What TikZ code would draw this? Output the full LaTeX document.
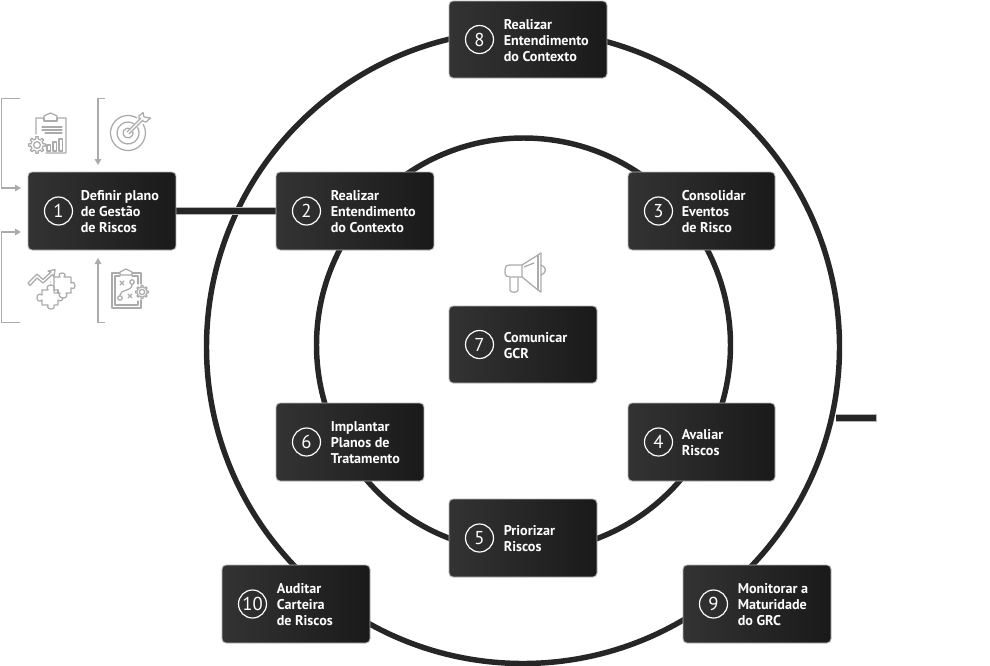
\documentclass[tikz,border=0pt]{standalone}
\usepackage{fontspec}
\setmainfont{PT Sans}
\usetikzlibrary{arrows.meta,calc,shadings}
\definecolor{ringc}{HTML}{262626}
\definecolor{edgec}{HTML}{B5B5B5}
\definecolor{iconc}{HTML}{ABABAB}
\tikzset{
 x=0.75pt,y=-0.75pt,
 ringline/.style={draw=ringc,line width=4.1pt},
 boxa/.style={rounded corners=3pt,draw=edgec,line width=0.7pt,left color=black!80,right color=black!90},
 numc/.style={circle,draw=white,line width=0.9pt,minimum size=21pt,inner sep=0pt,text=white,font=\fontsize{14}{14}\selectfont},
 labc/.style={anchor=west,align=left,text=white,inner sep=0pt,font=\fontsize{10.6}{12}\selectfont\bfseries},
 link/.style={draw=ringc,line width=4.4pt},
 linkedge/.style={draw=edgec,line width=5.6pt},
 bracket/.style={draw=iconc,line width=0.8pt},
 bracketarrow/.style={bracket,-{Triangle[length=4.5pt,width=5pt]}},
 icon/.style={draw=iconc,line width=0.95pt,line join=round,line cap=round},
}
\def\lx{55}
\newcommand{\stepbox}[7]{% name, x1,y1,x2,y2, number, text
 \node[boxa,minimum width={(#4-#2)*0.75pt},minimum height={(#5-#3)*0.75pt},inner sep=0pt] (#1) at ({(#2+#4)/2},{(#3+#5)/2}) {};
 \node[numc] (#1num) at ({#2+30.5},{(#3+#5)/2}) {#6};
 \node[labc] (#1lab) at ({#2+\lx-0.5},{(#3+#5)/2+0.8}) {#7};
}
\newcommand{\gearicon}[3]{% x,y,r
 \foreach \a in {0,45,...,315}{\draw[icon] ({#1+#3*cos(\a-11)},{#2+#3*sin(\a-11)}) -- ({#1+1.35*#3*cos(\a-8)},{#2+1.35*#3*sin(\a-8)}) -- ({#1+1.35*#3*cos(\a+8)},{#2+1.35*#3*sin(\a+8)}) -- ({#1+#3*cos(\a+11)},{#2+#3*sin(\a+11)});
 \draw[icon] ({#1+#3*cos(\a+11)},{#2+#3*sin(\a+11)}) arc[start angle={-(\a+11)},end angle={-(\a+34)},radius=#3*0.75pt];}
 \draw[icon] (#1,#2) circle[radius=0.55*#3*0.75pt];
}
\begin{document}
\begin{tikzpicture}
\useasboundingbox (0,0) rectangle (990,665);
\coordinate (oc) at (523,347);
\coordinate (ic) at (523.5,345);
\draw[ringline] (oc) circle[radius=316.5*0.75pt];
\draw[ringline] (ic) circle[radius=207*0.75pt];
% stub
\coordinate (stubA) at (836,418);
\coordinate (stubB) at (877,418);
\draw[linkedge] (stubA) -- (stubB);
\draw[link] (stubA) -- ($(stubB)+(-1,0)$);
% boxes
\coordinate (l1) at (176,211);\coordinate (l2) at (276,211);
\draw[linkedge] (l1) -- (l2);
\draw[link] (l1) -- (l2);
\def\lx{53}
\stepbox{n1}{28}{172}{176}{250}{1}{Definir plano\\de Gestão\\de Riscos}
\def\lx{55}
\stepbox{n2}{276}{172}{434}{250}{2}{Realizar\\Entendimento\\do Contexto}
\def\lx{54}
\stepbox{n3}{628}{172}{775}{250}{3}{Consolidar\\Eventos\\de Risco}
\stepbox{n4}{628}{403}{775}{481}{4}{Avaliar\\Riscos}
\def\lx{55}
\stepbox{n8}{449}{1}{607}{78}{8}{Realizar\\Entendimento\\do Contexto}
\stepbox{n7}{449}{306}{597}{383}{7}{Comunicar\\GCR}
\stepbox{n6}{276}{403}{424}{481}{6}{Implantar\\Planos de\\Tratamento}
\stepbox{n5}{449}{499}{597}{577}{5}{Priorizar\\Riscos}
\stepbox{n10}{222}{565}{370}{643}{10}{Auditar\\Carteira\\de Riscos}
\stepbox{n9}{683}{565}{831}{643}{9}{Monitorar a\\Maturidade\\do GRC}
% brackets
\coordinate (ba0) at (20,98.5);\coordinate (ba1) at (1.5,98.5);\coordinate (ba2) at (1.5,188);\coordinate (ba3) at (21,188);
\draw[bracketarrow] (ba0) -- (ba1) -- (ba2) -- (ba3);
\coordinate (bb0) at (20,322.5);\coordinate (bb1) at (1.5,322.5);\coordinate (bb2) at (1.5,232);\coordinate (bb3) at (21,232);
\draw[bracketarrow] (bb0) -- (bb1) -- (bb2) -- (bb3);
\coordinate (bc0) at (105,98.5);\coordinate (bc1) at (98,98.5);\coordinate (bc2) at (98,165);
\draw[bracketarrow] (bc0) -- (bc1) -- (bc2);
\coordinate (bd0) at (105,322.5);\coordinate (bd1) at (98,322.5);\coordinate (bd2) at (98,258);
\draw[bracketarrow] (bd0) -- (bd1) -- (bd2);
% icon chart clipboard
\draw[icon] (36,134) -- (36,118) -- (44,118) -- (44,116) .. controls (47,116) and (47,113) .. (50.5,113) .. controls (54,113) and (54,116) .. (57,116) -- (57,118) -- (66,118) -- (66,153) -- (46,153);
\draw[icon] (44,118) -- (44,121) -- (57,121) -- (57,118);
\draw[icon] (42,127) -- (62,127) (42,130) -- (62,130) (45,133) -- (62,133);
\gearicon{37}{145}{6.2}
\draw[icon] (47,145) rectangle (50.5,151) (53,142) rectangle (56.5,151) (59,139) rectangle (62.5,151);
% target
\draw[icon] (136.75,117.84) arc[start angle=60,end angle=390,radius=17.5*0.75pt];
\draw[icon] (133.5,123.47) arc[start angle=60,end angle=390,radius=11*0.75pt];
\draw[icon] (130.5,128.67) arc[start angle=60,end angle=390,radius=5*0.75pt];
\draw[icon] (127,132) -- (141,118) (129,134) -- (143,120);
\draw[icon] (139,119) -- (139,116) -- (143,112.5) -- (144,117) -- (150.5,118) -- (146,122) -- (142,121);
% puzzle + arrow
\draw[icon] (28,283) -- (37,274) -- (43,279.5) -- (51,272) -- (48,271) -- (55,269.5) -- (54,277) -- (52.5,274.5) -- (43,283) -- (37,278) -- (30,285.5) -- cycle;
\draw[icon] (54,292) -- (54,277) -- (60,277) .. controls (58,274) and (60,273) .. (62,273) .. controls (65,273) and (66,275) .. (64,277) -- (71,277) -- (71,283) .. controls (74,281) and (75,284) .. (75,286) .. controls (75,288) and (73,290) .. (71,288) -- (71,293);
\draw[icon] (71,293) -- (66,293) .. controls (68,296) and (66,298) .. (63,298) .. controls (60,298) and (58,295) .. (60,293) -- (54,293);
\draw[icon] (42,290) -- (48,290) .. controls (46,287) and (48,285) .. (51,285) .. controls (54,285) and (55,288) .. (54,290) -- (58,290);
\draw[icon] (42,290) -- (42,295) .. controls (39,293) and (37,295) .. (37,298) .. controls (37,301) and (40,302) .. (42,300) -- (42,305) -- (48,305) .. controls (47,308) and (49,309) .. (51,309) .. controls (54,309) and (55,307) .. (54,305) -- (58,305) -- (58,300) .. controls (61,302) and (63,300) .. (63,298);
\draw[icon] (58,290) -- (58,293);
\fill[iconc] (50.5,282) circle[radius=0.55pt] (50.5,285) circle[radius=0.55pt];
% plan clipboard
\draw[icon] (120,273) -- (112,273) -- (112,308) -- (141,308) -- (141,300) (141,284) -- (141,273) -- (132,273);
\draw[icon] (120,275) -- (120,272) .. controls (123,272) and (123,269) .. (126,269) .. controls (129,269) and (129,272) .. (132,272) -- (132,275) -- cycle;
\draw[icon] (120,276) -- (115,276) -- (115,305) -- (138,305) -- (138,301) (138,284) -- (138,276) -- (132,276);
\draw[icon] (120,281) -- (124,285) (124,281) -- (120,285) (128,294) -- (132,298) (132,294) -- (128,298);
\draw[icon] (120,295) .. controls (120,289) and (132,292) .. (132,284.5);
\draw[icon] (132,282) circle[radius=2.2*0.75pt] (120,298) circle[radius=2.2*0.75pt];
\gearicon{142}{292}{4.8}
% megaphone
\draw[icon] (522,265) -- (510,265) .. controls (506,265) and (505,267) .. (505,270) -- (505,272) .. controls (505,276) and (507,277) .. (510,277) -- (522,277) -- cycle;
\draw[icon] (522,265) -- (538,255) -- (541,253) -- (541,292) -- (538,290) -- (522,277);
\draw[icon] (538,255) -- (538,290);
\draw[icon] (541,265) .. controls (547,268) and (547,272) .. (541,275);
\draw[icon] (510,278) -- (510,290) .. controls (510,293) and (518,293) .. (518,290) -- (518,278);
\draw[icon] (524,267) -- (534,263);
\end{tikzpicture}
\end{document}
